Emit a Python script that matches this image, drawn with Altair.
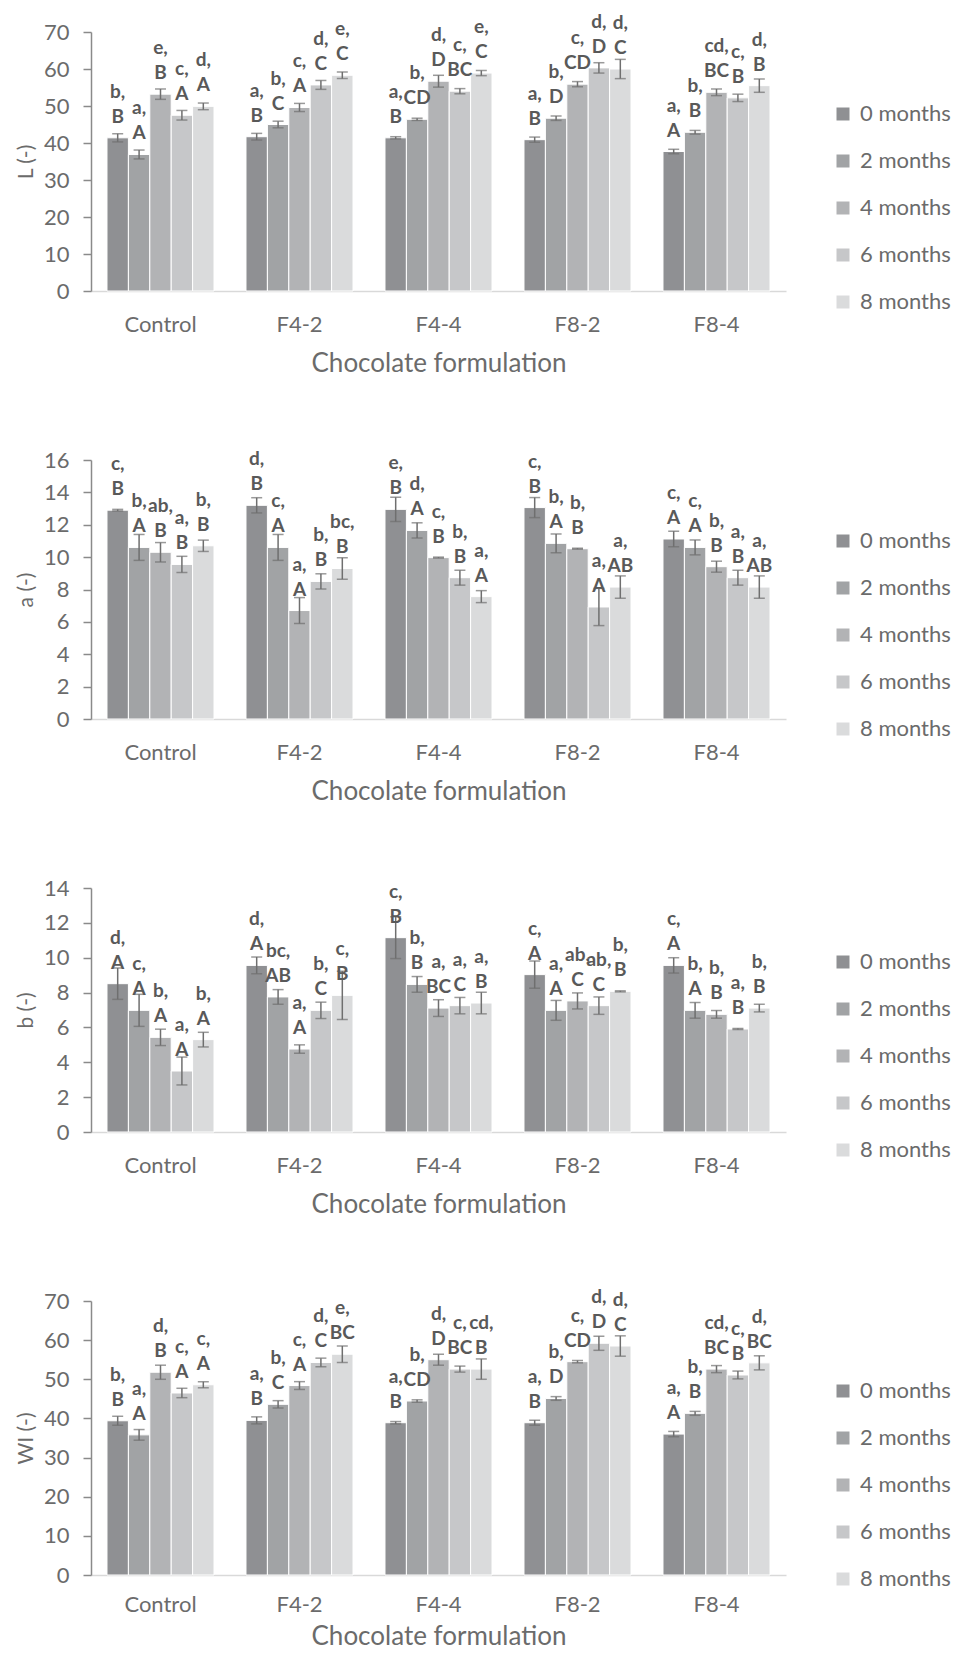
import altair as alt
import pandas as pd

formulations = ["Control", "F4-2", "F4-4", "F8-2", "F8-4"]
months = ["0 months", "2 months", "4 months", "6 months", "8 months"]
bar_colors = ["#8f9093", "#a1a3a5", "#b2b3b5", "#c6c7c9", "#dadbdc"]

# rows = formulation, columns = storage month
L_mean = [[41.4, 36.9, 53.2, 47.5, 49.9],
          [41.7, 45.0, 49.6, 55.7, 58.3],
          [41.4, 46.4, 56.7, 54.0, 58.9],
          [40.9, 46.7, 55.9, 60.3, 60.0],
          [37.7, 42.9, 53.7, 52.2, 55.5]]
L_err = [[1.1, 1.2, 1.4, 1.3, 0.9],
         [0.9, 0.9, 1.1, 1.2, 0.9],
         [0.3, 0.3, 1.6, 0.7, 0.7],
         [0.7, 0.6, 0.7, 1.4, 2.6],
         [0.6, 0.5, 0.9, 1.0, 1.8]]
L_lab = [["b,\nB", "a,\nA", "e,\nB", "c,\nA", "d,\nA"],
         ["a,\nB", "b,\nC", "c,\nA", "d,\nC", "e,\nC"],
         ["a,\nB", "b,\nCD", "d,\nD", "c,\nBC", "e,\nC"],
         ["a,\nB", "b,\nD", "c,\nCD", "d,\nD", "d,\nC"],
         ["a,\nA", "b,\nB", "cd,\nBC", "c,\nB", "d,\nB"]]

a_mean = [[12.9, 10.6, 10.3, 9.55, 10.7],
          [13.2, 10.6, 6.7, 8.5, 9.3],
          [12.95, 11.65, 9.97, 8.73, 7.56],
          [13.06, 10.85, 10.52, 6.92, 8.15],
          [11.12, 10.6, 9.41, 8.73, 8.15]]
a_err = [[0.05, 0.8, 0.6, 0.5, 0.35],
         [0.47, 0.8, 0.8, 0.47, 0.66],
         [0.75, 0.47, 0.03, 0.46, 0.37],
         [0.62, 0.58, 0.03, 1.15, 0.69],
         [0.48, 0.46, 0.34, 0.46, 0.69]]
a_lab = [["c,\nB", "b,\nA", "ab,\nB", "a,\nB", "b,\nB"],
         ["d,\nB", "c,\nA", "a,\nA", "b,\nB", "bc,\nB"],
         ["e,\nB", "d,\nA", "c,\nB", "b,\nB", "a,\nA"],
         ["c,\nB", "b,\nA", "b,\nB", "a,\nA", "a,\nAB"],
         ["c,\nA", "c,\nA", "b,\nB", "a,\nB", "a,\nAB"]]

b_mean = [[8.51, 6.98, 5.43, 3.5, 5.3],
          [9.56, 7.75, 4.76, 6.98, 7.84],
          [11.15, 8.47, 7.11, 7.25, 7.4],
          [9.03, 6.98, 7.52, 7.25, 8.07],
          [9.56, 6.98, 6.75, 5.91, 7.11]]
b_err = [[0.9, 0.92, 0.47, 0.8, 0.42],
         [0.48, 0.42, 0.24, 0.47, 1.39],
         [1.2, 0.45, 0.48, 0.47, 0.62],
         [0.78, 0.57, 0.46, 0.5, 0.03],
         [0.44, 0.45, 0.22, 0.03, 0.22]]
b_lab = [["d,\nA", "c,\nA", "b,\nA", "a,\nA", "b,\nA"],
         ["d,\nA", "bc,\nAB", "a,\nA", "b,\nC", "c,\nB"],
         ["c,\nB", "b,\nB", "a,\nBC", "a,\nC", "a,\nB"],
         ["c,\nA", "a,\nA", "ab,\nC", "ab,\nC", "b,\nB"],
         ["c,\nA", "b,\nA", "b,\nB", "a,\nB", "b,\nB"]]

WI_mean = [[39.4, 35.8, 51.8, 46.5, 48.6],
           [39.5, 43.6, 48.4, 54.3, 56.4],
           [38.9, 44.45, 55.0, 52.6, 52.6],
           [38.9, 45.1, 54.5, 59.2, 58.5],
           [36.0, 41.3, 52.6, 51.1, 54.2]]
WI_err = [[1.15, 1.36, 1.8, 1.2, 0.77],
          [0.9, 0.94, 1.0, 1.1, 2.1],
          [0.3, 0.3, 1.4, 0.77, 2.6],
          [0.64, 0.47, 0.3, 1.8, 2.6],
          [0.68, 0.5, 0.9, 1.0, 1.8]]
WI_lab = [["b,\nB", "a,\nA", "d,\nB", "c,\nA", "c,\nA"],
          ["a,\nB", "b,\nC", "c,\nA", "d,\nC", "e,\nBC"],
          ["a,\nB", "b,\nCD", "d,\nD", "c,\nBC", "cd,\nB"],
          ["a,\nB", "b,\nD", "c,\nCD", "d,\nD", "d,\nC"],
          ["a,\nA", "b,\nB", "cd,\nBC", "c,\nB", "d,\nBC"]]

FONT = "Lato"
TXT = "#6b6b6b"


def panel(title, means, errs, labels, ymax, ystep, height, legend_y,
          xlabel_pad=23, xtitle_pad=15):
    rows = []
    for i, f in enumerate(formulations):
        for j, m in enumerate(months):
            v = means[i][j]
            e = errs[i][j]
            rows.append(dict(form=f, month=m, v=v, lo=v - e, hi=v + e, lab=labels[i][j]))
    df = pd.DataFrame(rows)

    xaxis = alt.Axis(title="Chocolate formulation", labelAngle=0, ticks=False,
                     domainColor="#d9d9d9", domainWidth=1.5, labelPadding=xlabel_pad,
                     labelFontSize=22, labelColor=TXT, titleFontSize=26,
                     titleColor=TXT, titleFontWeight="normal", titlePadding=xtitle_pad)
    xscale = alt.Scale(paddingInner=0.23, paddingOuter=0.115)
    yscale = alt.Scale(domain=[0, ymax], nice=False, zero=True)
    yaxis = alt.Axis(title=title, values=list(range(0, ymax + 1, ystep)), grid=False,
                     domainColor="#8a8a8a", domainWidth=1.5, tickColor="#8a8a8a",
                     tickWidth=1.5, tickSize=8, labelPadding=14, labelFontSize=22,
                     labelColor=TXT, titleFontSize=21, titleColor=TXT,
                     titleFontWeight="normal", titlePadding=7)

    def X():
        return alt.X("form:N", sort=formulations, scale=xscale, axis=xaxis)

    def XO():
        return alt.XOffset("month:N", sort=months,
                           scale=alt.Scale(domain=months, paddingInner=0, paddingOuter=0))

    def Y(field):
        return alt.Y(field, type="quantitative", scale=yscale, axis=yaxis)

    base = alt.Chart(df)
    bars = base.mark_bar(stroke="white", strokeWidth=1).encode(
        x=X(), xOffset=XO(), y=Y("v"),
        color=alt.Color("month:N", sort=months,
                        scale=alt.Scale(domain=months, range=bar_colors),
                        legend=alt.Legend(title=None, orient="none", legendX=741,
                                          legendY=legend_y, symbolType="square",
                                          symbolSize=169, symbolStrokeWidth=0,
                                          labelFontSize=22, labelColor=TXT,
                                          labelFont=FONT, rowPadding=25,
                                          labelOffset=6)))
    err_rule = base.mark_rule(color="#6f6f6f", strokeWidth=1.5).encode(
        x=X(), xOffset=XO(), y=Y("lo"), y2="hi:Q")
    cap_hi = base.mark_tick(color="#6f6f6f", thickness=1.5, size=11,
                            orient="horizontal").encode(x=X(), xOffset=XO(), y=Y("hi"))
    cap_lo = base.mark_tick(color="#6f6f6f", thickness=1.5, size=11,
                            orient="horizontal").encode(x=X(), xOffset=XO(), y=Y("lo"))
    text = base.mark_text(lineBreak="\n", fontWeight="bold", fontSize=19,
                          baseline="bottom", dy=-36, color="#595959",
                          lineHeight=25, font=FONT).encode(
        x=X(), xOffset=XO(), y=Y("v"), text="lab:N")
    return alt.layer(bars, err_rule, cap_hi, cap_lo, text).properties(
        width=695, height=height)


p1 = panel("L (-)", L_mean, L_err, L_lab, 70, 10, 259, 71)
p2 = panel("a (-)", a_mean, a_err, a_lab, 16, 2, 259, 70)
p3 = panel("b (-)", b_mean, b_err, b_lab, 14, 2, 244, 63)
p4 = panel("WI (-)", WI_mean, WI_err, WI_lab, 70, 10, 274, 79,
           xlabel_pad=19, xtitle_pad=8)

chart = alt.vconcat(p1, p2, p3, p4, spacing=169, bounds="flush").resolve_scale(
    color="independent").resolve_legend(color="independent").properties(
    padding={"left": 7, "top": 4, "right": 0, "bottom": 0}
).configure(font=FONT).configure_view(stroke=None)

chart.save("out.html", embed_options={"renderer": "svg", "actions": False})
